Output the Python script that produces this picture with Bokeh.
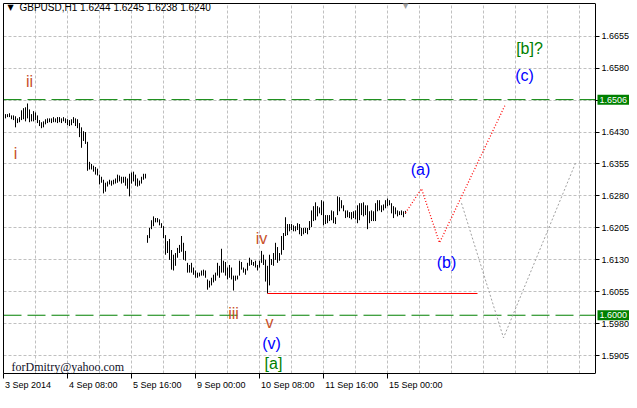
from bokeh.plotting import figure
from bokeh.models import Range1d, FixedTicker, Label, ColumnDataSource, PrintfTickFormatter, LinearAxis
from bokeh.embed import file_html
from bokeh.resources import INLINE
from bokeh.core.properties import value

# ---------------- data ----------------
title_text = "GBPUSD,H1  1.6244 1.6245 1.6238 1.6240"

# hourly bars, index = trading hours since 3 Sep 2014 00:00
high_1 = [1.6472, 1.6472, 1.6474, 1.6469, 1.6469, 1.6467, 1.6462, 1.6465, 1.6481, 1.6486,
          1.6488, 1.6497, 1.6483, 1.6472, 1.6479, 1.6476, 1.6469, 1.6458, 1.6453, 1.6455,
          1.6460, 1.6462, 1.6462, 1.6462, 1.6465, 1.6462, 1.6465, 1.6465, 1.6462, 1.6465,
          1.6462, 1.6460, 1.6458, 1.6460, 1.6465, 1.6462, 1.6460, 1.6451, 1.6441, 1.6432,
          1.6430, 1.6407, 1.6360, 1.6355, 1.6351, 1.6348, 1.6344, 1.6330, 1.6325, 1.6318,
          1.6311, 1.6314, 1.6318, 1.6316, 1.6318, 1.6321, 1.6330, 1.6328, 1.6325, 1.6325,
          1.6325, 1.6321, 1.6332, 1.6335, 1.6337, 1.6330, 1.6321, 1.6316, 1.6325, 1.6332,
          1.6332]
low_1 = [1.6462, 1.6465, 1.6465, 1.6460, 1.6458, 1.6441, 1.6451, 1.6453, 1.6458, 1.6460,
         1.6455, 1.6462, 1.6453, 1.6455, 1.6455, 1.6458, 1.6451, 1.6444, 1.6439, 1.6441,
         1.6448, 1.6451, 1.6453, 1.6451, 1.6453, 1.6453, 1.6451, 1.6453, 1.6451, 1.6455,
         1.6451, 1.6446, 1.6444, 1.6446, 1.6451, 1.6444, 1.6439, 1.6418, 1.6393, 1.6409,
         1.6402, 1.6339, 1.6342, 1.6342, 1.6337, 1.6330, 1.6328, 1.6307, 1.6311, 1.6286,
         1.6290, 1.6302, 1.6307, 1.6304, 1.6307, 1.6309, 1.6311, 1.6314, 1.6309, 1.6311,
         1.6304, 1.6297, 1.6279, 1.6309, 1.6314, 1.6304, 1.6302, 1.6304, 1.6309, 1.6318,
         1.6321]
high_2 = [1.6188, 1.6205, 1.6223, 1.6232, 1.6228, 1.6228, 1.6225, 1.6216, 1.6209, 1.6188,
          1.6174, 1.6179, 1.6153, 1.6142, 1.6146, 1.6158, 1.6165, 1.6186, 1.6170, 1.6151,
          1.6123, 1.6118, 1.6123, 1.6112, 1.6105, 1.6100, 1.6100, 1.6105, 1.6107, 1.6105,
          1.6084, 1.6081, 1.6088, 1.6095, 1.6100, 1.6123, 1.6116, 1.6156, 1.6128, 1.6125,
          1.6112, 1.6118, 1.6112, 1.6093, 1.6093, 1.6093, 1.6128, 1.6125, 1.6112, 1.6109,
          1.6123, 1.6135, 1.6130, 1.6125, 1.6128, 1.6118, 1.6128, 1.6151, 1.6142, 1.6130,
          1.6116, 1.6142]
low_2 = [1.6170, 1.6181, 1.6202, 1.6209, 1.6218, 1.6218, 1.6211, 1.6205, 1.6181, 1.6142,
         1.6146, 1.6130, 1.6107, 1.6105, 1.6116, 1.6135, 1.6146, 1.6149, 1.6130, 1.6128,
         1.6100, 1.6100, 1.6100, 1.6095, 1.6088, 1.6088, 1.6091, 1.6093, 1.6093, 1.6088,
         1.6060, 1.6065, 1.6070, 1.6077, 1.6081, 1.6093, 1.6088, 1.6100, 1.6100, 1.6093,
         1.6084, 1.6088, 1.6084, 1.6058, 1.6081, 1.6084, 1.6093, 1.6107, 1.6100, 1.6095,
         1.6105, 1.6116, 1.6118, 1.6116, 1.6112, 1.6105, 1.6112, 1.6123, 1.6118, 1.6079,
         1.6051, 1.6070]
high_3 = [1.6132, 1.6146, 1.6170, 1.6160, 1.6146, 1.6186, 1.6193, 1.6230, 1.6214, 1.6214,
          1.6214, 1.6211, 1.6209, 1.6216, 1.6214, 1.6205, 1.6205, 1.6205, 1.6205, 1.6221,
          1.6246, 1.6256, 1.6265, 1.6256, 1.6253, 1.6270, 1.6267, 1.6235, 1.6235, 1.6235,
          1.6246, 1.6244, 1.6230, 1.6279, 1.6277, 1.6270, 1.6258, 1.6246, 1.6246, 1.6242,
          1.6242, 1.6244, 1.6246, 1.6258, 1.6263, 1.6263, 1.6265, 1.6258, 1.6258, 1.6244,
          1.6246, 1.6244, 1.6263, 1.6270, 1.6270, 1.6258, 1.6260, 1.6270, 1.6274, 1.6270,
          1.6263, 1.6256, 1.6253, 1.6246, 1.6244, 1.6246, 1.6244, 1.6245]
low_3 = [1.6118, 1.6116, 1.6130, 1.6123, 1.6128, 1.6142, 1.6153, 1.6186, 1.6188, 1.6197,
         1.6200, 1.6197, 1.6197, 1.6200, 1.6190, 1.6186, 1.6190, 1.6193, 1.6190, 1.6200,
         1.6207, 1.6221, 1.6223, 1.6232, 1.6239, 1.6235, 1.6211, 1.6214, 1.6216, 1.6221,
         1.6223, 1.6216, 1.6214, 1.6235, 1.6244, 1.6251, 1.6244, 1.6228, 1.6230, 1.6228,
         1.6225, 1.6228, 1.6225, 1.6216, 1.6223, 1.6235, 1.6232, 1.6235, 1.6202, 1.6216,
         1.6221, 1.6221, 1.6221, 1.6244, 1.6246, 1.6242, 1.6246, 1.6251, 1.6256, 1.6258,
         1.6239, 1.6228, 1.6237, 1.6232, 1.6235, 1.6235, 1.6230, 1.6238]

price_ticks = [1.5905, 1.5980, 1.6055, 1.6130, 1.6205, 1.6280, 1.6355, 1.6430, 1.6505, 1.6580, 1.6655]
date_ticks = [0, 32, 64, 96, 128, 160, 192]
date_labels = ["3 Sep 2014", "4 Sep 08:00", "5 Sep 16:00", "9 Sep 00:00",
               "10 Sep 08:00", "11 Sep 16:00", "15 Sep 00:00"]

green_levels = [1.6506, 1.6000]
red_level = 1.6051
red_from, red_to = 132, 237

proj_x = [201, 209, 218, 251]
proj_y = [1.6240, 1.6297, 1.6170, 1.6495]
alt_x = [229, 250, 286]
alt_y = [1.6263, 1.5947, 1.6357]

wave_text = ["i", "ii", "iii", "iv", "v", "(v)", "[a]", "(a)", "(b)", "(c)", "[b]?"]
wave_x = [6, 13, 115, 129, 133, 134, 135, 208.5, 221.5, 260.5, 263]
wave_y = [1.6379, 1.6548, 1.6005, 1.6179, 1.5982, 1.5933, 1.5886, 1.6342, 1.6123, 1.6562, 1.6625]
ROMAN = "#c8502a"
BLUE = "#0000ff"
GREEN = "#008000"
wave_color = [ROMAN, ROMAN, ROMAN, ROMAN, ROMAN, BLUE, GREEN, BLUE, BLUE, BLUE, GREEN]

# ---------------- layout constants ----------------
high = high_1 + high_2 + high_3
low = low_1 + low_2 + low_3
hours = list(range(1, 1 + len(high)))

FONT = "Liberation Sans"
FS = "9px"
W, H = 629, 392
LB, TB, BB = 3, 3, 15
AXIS_W = 34                      # room kept for the price scale inside the frame
PX_PER_BAR = 2.0
PX_PER_PRICE = 4307.0
frame_w = W - LB
frame_h = H - TB - BB
x_start = 0.0
chart_edge = x_start + (frame_w - AXIS_W) / PX_PER_BAR
x_end = x_start + frame_w / PX_PER_BAR
y_top = 1.6655 + 33.0 / PX_PER_PRICE
y_bot = y_top - frame_h / PX_PER_PRICE

p = figure(width=W, height=H, output_backend="svg", toolbar_location=None,
           x_range=Range1d(x_start, x_end), y_range=Range1d(y_bot, y_top),
           x_axis_location="below", y_axis_location="right",
           min_border_left=LB, min_border_top=TB, min_border_right=0, min_border_bottom=BB,
           background_fill_color="white", border_fill_color="white",
           outline_line_color=None)

# right price scale, drawn at the chart's right edge
ya = p.yaxis[0]
ya.fixed_location = chart_edge
ya.ticker = FixedTicker(ticks=price_ticks)
ya.formatter = PrintfTickFormatter(format="%.4f")
ya.axis_line_color = "black"
ya.major_tick_line_color = "black"
ya.major_tick_out = 4
ya.major_tick_in = 0
ya.minor_tick_line_color = None
ya.major_label_standoff = 2
ya.major_label_text_font = FONT
ya.major_label_text_font_size = FS
ya.major_label_text_color = "black"

# bottom time axis: labels sit to the right of their tick marks
CW = {" ": 0.278, ":": 0.278, "S": 0.667}
def text_px(s, size=9.0):
    return sum(CW.get(c, 0.556) for c in s) * size

centers = [round(t + (1.5 + text_px(s) / 2) / PX_PER_BAR, 2) for t, s in zip(date_ticks, date_labels)]
xa = p.xaxis[0]
xa.bounds = (x_start, chart_edge)
xa.ticker = FixedTicker(ticks=centers, minor_ticks=date_ticks)
xa.major_label_overrides = {c: s for c, s in zip(centers, date_labels)}
xa.axis_line_color = "black"
xa.major_tick_line_color = None
xa.major_tick_out = 0
xa.major_tick_in = 0
xa.minor_tick_line_color = "black"
xa.minor_tick_out = 5
xa.minor_tick_in = 0
xa.major_label_standoff = 1
xa.major_label_text_font = FONT
xa.major_label_text_font_size = FS
xa.major_label_text_color = "black"

# plain border lines on the left and top of the chart
for side, bnds in (("left", (y_bot, y_top)), ("above", (x_start, chart_edge))):
    p.add_layout(LinearAxis(ticker=FixedTicker(ticks=[]), bounds=bnds,
                            major_tick_out=0, major_tick_in=0, minor_tick_out=0, minor_tick_in=0,
                            major_label_standoff=0, axis_line_color="black"), side)

# grids
p.xgrid.ticker = FixedTicker(ticks=list(range(16, int(chart_edge), 16)))
for g in (p.xgrid[0], p.ygrid[0]):
    g.grid_line_color = "#c0c0c0"
    g.grid_line_dash = "3 2"
    g.grid_line_width = 1

# blank strip behind the price scale
p.quad(left=[chart_edge], right=[x_end], bottom=[y_bot], top=[y_top],
       fill_color="white", line_color=None)

# bars
src = ColumnDataSource(dict(x=hours, hi=high, lo=low))
p.segment(x0="x", y0="lo", x1="x", y1="hi", source=src, line_color="black", line_width=1)

# levels
p.segment(x0=[x_start] * len(green_levels), y0=green_levels,
          x1=[chart_edge] * len(green_levels), y1=green_levels,
          line_color=GREEN, line_width=1, line_dash="18 6")
p.segment(x0=[red_from], y0=[red_level], x1=[red_to], y1=[red_level],
          line_color="#ff0000", line_width=1)

# projections
p.line(proj_x, proj_y, line_color="#ff0000", line_width=1.3, line_dash="1 2")
p.line(alt_x, alt_y, line_color="#a0a0a0", line_width=1, line_dash="2 2")

# wave labels
wsrc = ColumnDataSource(dict(x=wave_x, y=wave_y, t=wave_text, c=wave_color))
p.text(x="x", y="y", text="t", source=wsrc, text_color="c",
       text_font=value(FONT), text_font_size="16px",
       text_align="center", text_baseline="middle")

# price badges on the scale
for lvl in green_levels:
    p.add_layout(Label(x=chart_edge + 1, y=lvl, x_units="data", y_units="data",
                       text="%.4f" % lvl, text_color="white", text_font=FONT,
                       text_font_size=FS, text_baseline="middle", text_align="left",
                       background_fill_color=GREEN, padding=2))

# title and marks
p.add_layout(Label(x=4, y=frame_h - 8, x_units="screen", y_units="screen", text="\u25bc",
                   text_font="DejaVu Sans", text_font_size="8px", text_color="black",
                   text_baseline="middle", text_align="left"))
p.add_layout(Label(x=16, y=frame_h - 8, x_units="screen", y_units="screen", text=title_text,
                   text_font=FONT, text_font_size="10px", text_color="black",
                   text_baseline="middle", text_align="left"))
p.add_layout(Label(x=hours[-1], y=frame_h - 6, x_units="data", y_units="screen", text="\u25bc",
                   text_font="DejaVu Sans", text_font_size="8px", text_color="#a0a0a0",
                   text_baseline="middle", text_align="center"))
p.add_layout(Label(x=8, y=7, x_units="screen", y_units="screen", text="forDmitry@yahoo.com",
                   text_font="Liberation Serif", text_font_size="12px", text_color="#101028",
                   text_baseline="middle", text_align="left"))

open("out.html", "w").write(file_html(p, INLINE))
